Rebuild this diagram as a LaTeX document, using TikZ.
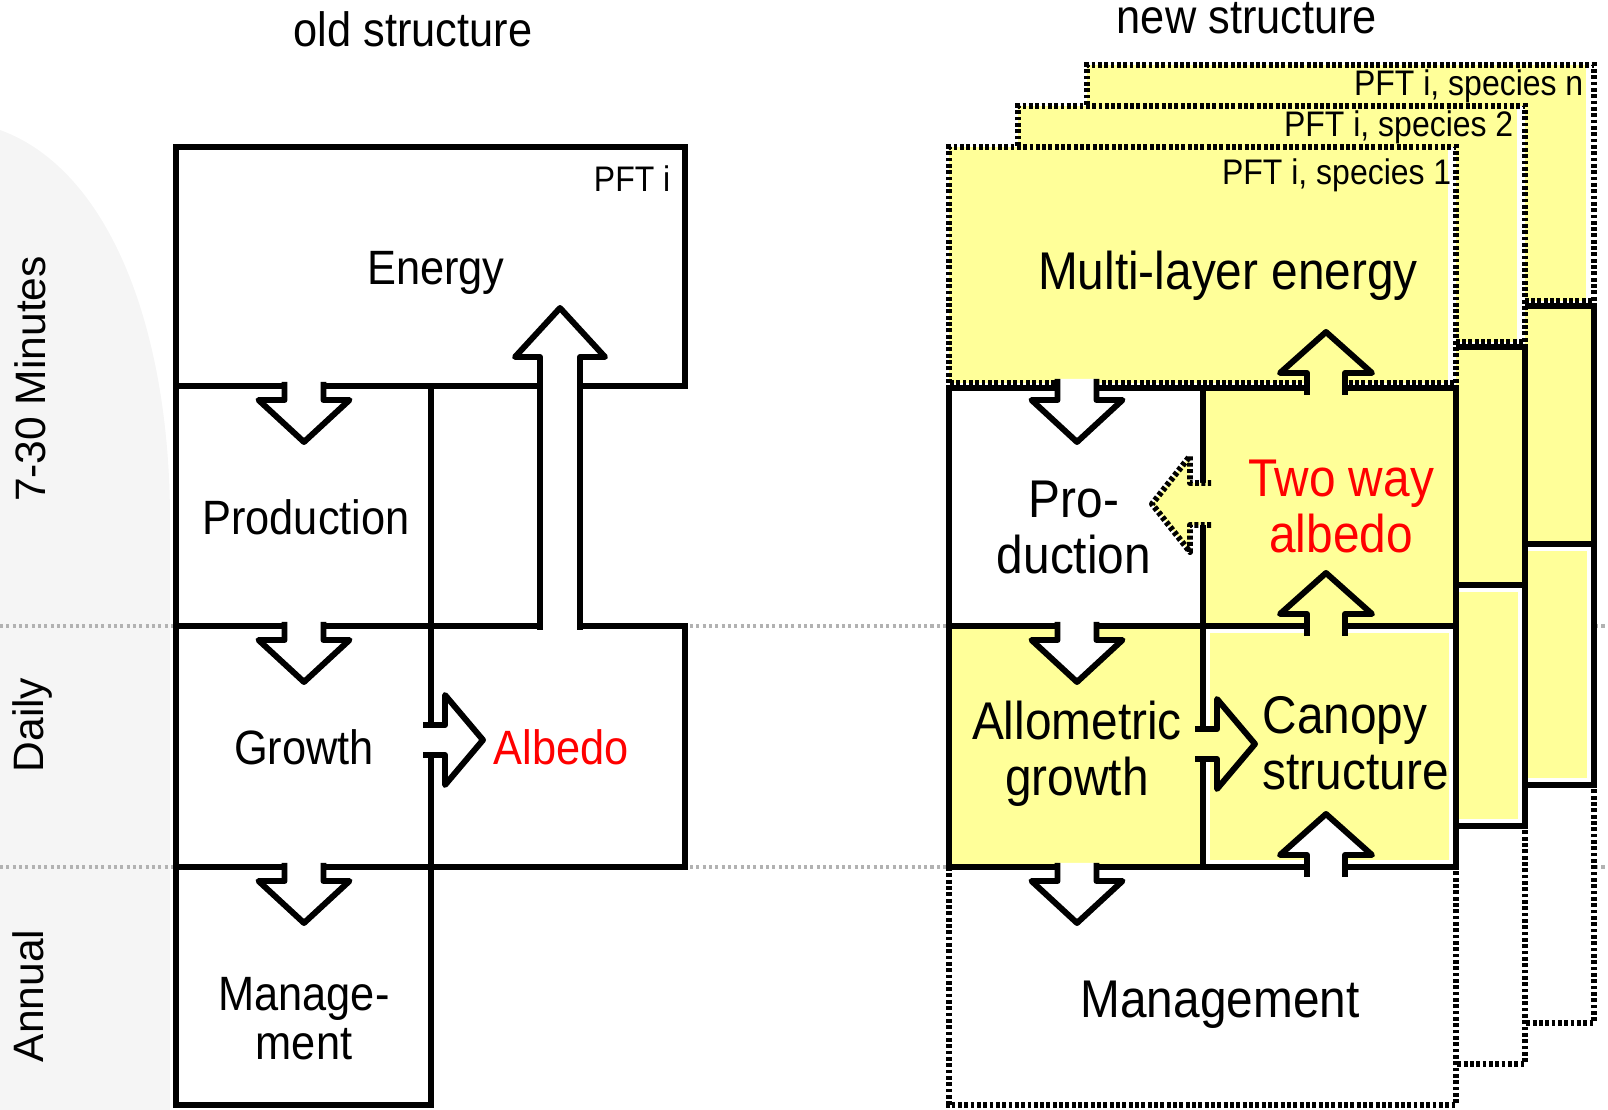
\documentclass[tikz,border=0pt]{standalone}
\usepackage{fontspec}
\setmainfont{Liberation Sans}[FakeStretch=0.9]
\newfontfamily\sidefont{Liberation Sans}
\usepackage{tikz}
\usetikzlibrary{positioning}
\definecolor{canopyyellow}{HTML}{FFFF99}
\definecolor{albedored}{HTML}{FF0000}
\tikzset{
	wall/.style={line width=1.7pt},
	dotwall/.style={line width=1.7pt, dash pattern=on 1.1pt off 0.7pt},
	timeline/.style={draw=black!30, line width=0.9pt, dash pattern=on 0.9pt off 0.9pt},
	blockarrow/.style={line width=1.7pt, line join=round, fill=white},
	oldtext/.style={font=\fontsize{13.7}{14.2}\selectfont, align=center, inner sep=0pt, anchor=base},
	newtext/.style={font=\fontsize{15.1}{16.2}\selectfont, align=center, inner sep=0pt, anchor=base},
	pfttext/.style={font=\fontsize{10.1}{12}\selectfont, inner sep=0pt, anchor=base east},
	sidetext/.style={font=\sidefont\fontsize{12.1}{14}\selectfont, rotate=90, inner sep=0pt, anchor=base}
}
% block arrow: [style]{base}{angle}{shaft}{head}{shaft half width}{head half width}
\newcommand{\blockarrow}[7][]{%
	\filldraw[blockarrow,#1,shift={(#2)},rotate=#3] (0,-#6) -- (#4,-#6) -- (#4,-#7) -- ({#4+#5},0) -- (#4,#7) -- (#4,#6) -- (0,#6);}
% one species layer of the new structure
\newcommand{\speciespanel}[1]{%
	\begin{scope}[shift={(#1)}]
		\fill[white] (949,147) rectangle (1456,1105);
		\fill[canopyyellow] (949,147) rectangle (1448,383);
		\fill[canopyyellow] (1203,388) rectangle (1456,626);
		\fill[canopyyellow] (949,626) rectangle (1203,867);
		\fill[canopyyellow] (1210,633) rectangle (1449,860);
		\draw[dotwall] (949,383) -- (949,147) -- (1456,147) -- (1456,383) -- cycle;
		\draw[dotwall] (949,867) -- (949,1105) -- (1456,1105) -- (1456,867);
		\draw[wall] (949,388) rectangle (1456,867);
		\draw[wall] (949,626) -- (1456,626);
		\draw[wall] (1203,388) -- (1203,867);
	\end{scope}}

\begin{document}
\begin{tikzpicture}[x=0.01cm, y=-0.01cm]
	\useasboundingbox (0,0) rectangle (1608,1110);
	% faint backdrop on the left
	\fill[black!4] (0,130) .. controls (110,170) and (170,330) .. (170,520) -- (170,1110) -- (0,1110) -- cycle;
	
	% time steps
	\coordinate (day) at (0,626);
	\coordinate (year) at (0,867);
	\draw[timeline] (day) -- ++(1608,0);
	\draw[timeline] (year) -- ++(1608,0);
	\node[sidetext] (minutes) at (45,379) {7-30 Minutes};
	\node[sidetext] (daily) at (44,725) {Daily};
	\node[sidetext] (annual) at (44,996) {Annual};
	
	% old structure
	\node[oldtext] (oldtitle) at (413,47) {old structure};
	\fill[white] (176,147) rectangle (685,386);
	\fill[white] (176,386) rectangle (431,1105);
	\fill[white] (431,626) rectangle (685,867);
	\draw[wall] (176,147) rectangle (685,386);
	\draw[wall] (176,386) rectangle (431,1105);
	\draw[wall] (176,626) -- (685,626) -- (685,867) -- (176,867);
	
	\node[pfttext] (oldpft) at (671,192) {PFT i};
	\node[oldtext] (energy) at (436,285) {Energy};
	\node[oldtext] (production) at (306,535) {Production};
	\node[oldtext] (growth) at (304,765) {Growth};
	\node[oldtext, text=albedored] (albedo) at (561,765) {Albedo};
	\node[oldtext] (manage) at (304,1060) {Manage-\\ment};
	
	\coordinate (energy-out) at (304,382);
	\coordinate (production-out) at (304,622);
	\coordinate (growth-out) at (304,863);
	\coordinate (growth-side) at (423,740);
	\coordinate (albedo-out) at (560,630);
	\blockarrow{energy-out}{-90}{18}{42}{19.5}{45.5}
	\blockarrow{production-out}{-90}{18}{42}{19.5}{45.5}
	\blockarrow{growth-out}{-90}{18}{42}{19.5}{45.5}
	\blockarrow{growth-side}{0}{22}{38}{15}{45}
	\blockarrow{albedo-out}{90}{273}{49}{20}{45}
	
	% new structure
	\node[oldtext] (newtitle) at (1247,34) {new structure};
	\speciespanel{138,-82}
	\speciespanel{69,-41}
	\speciespanel{0,0}
	\node[pfttext] (pftn) at (1584,96) {PFT i, species n};
	\node[pfttext] (pft2) at (1514,137) {PFT i, species 2};
	\node[pfttext] (pft1) at (1452,185) {PFT i, species 1};
	
	\node[newtext] (multilayer) at (1228,290) {Multi-layer energy};
	\node[newtext] (pro) at (1074,574) {Pro-\\duction};
	\node[newtext, text=albedored] (twoway) at (1341,553) {Two way\\albedo};
	\node[newtext] (allometric) at (1077,796) {Allometric\\growth};
	\node[newtext, align=left, anchor=base west] (canopy) at (1262,790) {Canopy\\structure};
	\node[newtext] (management) at (1220,1018) {Management};
	
	\coordinate (multi-out) at (1077,379);
	\coordinate (pro-out) at (1077,622);
	\coordinate (allo-out) at (1077,863);
	\coordinate (allo-side) at (1195,744);
	\coordinate (twoway-side) at (1211,504);
	\coordinate (twoway-out) at (1326,395);
	\coordinate (canopy-out) at (1326,636);
	\coordinate (manage-out) at (1326,877);
	\blockarrow{multi-out}{-90}{21}{42}{19.5}{45.5}
	\blockarrow{pro-out}{-90}{18}{42}{19.5}{45.5}
	\blockarrow{allo-out}{-90}{18}{42}{19.5}{45.5}
	\blockarrow[fill=canopyyellow]{allo-side}{0}{22}{38}{15}{45}
	\blockarrow[fill=canopyyellow, dash pattern=on 1.1pt off 0.7pt]{twoway-side}{180}{21}{38}{21}{48}
	\blockarrow[fill=canopyyellow]{twoway-out}{90}{22}{41}{19}{46}
	\blockarrow[fill=canopyyellow]{canopy-out}{90}{22}{41}{19}{46}
	\blockarrow{manage-out}{90}{22}{41}{19}{46}
\end{tikzpicture}
\end{document}
